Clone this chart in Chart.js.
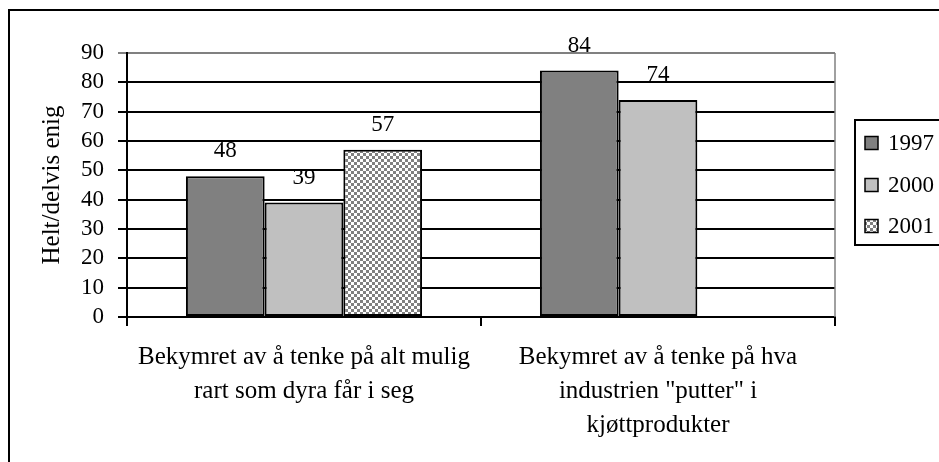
<!DOCTYPE html>
<html>
<head>
<meta charset="utf-8">
<script src="https://cdn.jsdelivr.net/npm/chart.js@4.4.0/dist/chart.umd.min.js"></script>
<style>
  body { margin: 0; background: #fff; }
  canvas { display: block; }
</style>
</head>
<body>
<canvas id="chart" width="939" height="462"></canvas>
<script>
// categories (x labels, split on lines)
const categories = [
    ['Bekymret av å tenke på alt mulig', 'rart som dyra får i seg'],
    ['Bekymret av å tenke på hva', 'industrien "putter" i', 'kjøttprodukter']
];
const seriesNames = ['1997', '2000', '2001'];
const values1997 = [48, 84];
const values2000 = [39, 74];
const values2001 = [57, null];
const yTicks = [0, 10, 20, 30, 40, 50, 60, 70, 80, 90];
const yTitle = 'Helt/delvis enig';

const FONT = '"Liberation Serif", "Times New Roman", serif';

// checkered fill for 2001
function makePattern() {
    const c = document.createElement('canvas');
    c.width = 6; c.height = 6;
    const g = c.getContext('2d');
    g.fillStyle = '#ffffff';
    g.fillRect(0, 0, 6, 6);
    g.fillStyle = '#808080';
    g.fillRect(0, 0, 3, 3);
    g.fillRect(3, 3, 3, 3);
    return g.createPattern(c, 'repeat');
}
const checker = makePattern();

// frame, plot border, value labels, axis title, legend
const decorations = {
    id: 'decorations',
    afterDatasetsDraw(chart) {
        const ctx = chart.ctx;
        const area = chart.chartArea;
        ctx.save();

        // gray right border of the plot area
        ctx.strokeStyle = '#808080';
        ctx.lineWidth = 1.5;
        ctx.beginPath();
        ctx.moveTo(area.right, area.top);
        ctx.lineTo(area.right, area.bottom);
        ctx.stroke();

        // value labels
        ctx.fillStyle = '#000';
        ctx.font = '23px ' + FONT;
        ctx.textAlign = 'center';
        ctx.textBaseline = 'alphabetic';
        chart.data.datasets.forEach((ds, i) => {
            chart.getDatasetMeta(i).data.forEach((bar, j) => {
                if (ds.data[j] == null) return;
                ctx.fillText(String(ds.data[j]), bar.x, bar.y - 19);
            });
        });

        // y axis title
        ctx.save();
        ctx.font = '25px ' + FONT;
        ctx.translate(52, (area.top + area.bottom) / 2);
        ctx.rotate(-Math.PI / 2);
        ctx.textBaseline = 'middle';
        ctx.fillText(yTitle, 0, 0);
        ctx.restore();

        // legend
        ctx.strokeStyle = '#000';
        ctx.lineWidth = 2;
        ctx.strokeRect(855, 120, 120, 125);
        const rows = [143, 185, 226];
        ctx.font = '23px ' + FONT;
        ctx.textAlign = 'left';
        ctx.textBaseline = 'middle';
        chart.data.datasets.forEach((ds, i) => {
            const y = rows[i];
            ctx.fillStyle = ds.backgroundColor;
            ctx.fillRect(865, y - 6.5, 13, 13);
            ctx.lineWidth = 1.5;
            ctx.strokeRect(865, y - 6.5, 13, 13);
            ctx.fillStyle = '#000';
            ctx.fillText(ds.label, 888, y + 1);
        });

        // outer frame
        ctx.lineWidth = 2;
        ctx.strokeRect(9, 10, 1000, 1000);
        ctx.restore();
    }
};

new Chart(document.getElementById('chart'), {
    type: 'bar',
    data: {
        labels: categories,
        datasets: [
            { label: seriesNames[0], data: values1997, backgroundColor: '#808080' },
            { label: seriesNames[1], data: values2000, backgroundColor: '#c0c0c0' },
            { label: seriesNames[2], data: values2001, backgroundColor: checker }
        ]
    },
    options: {
        responsive: false,
        animation: false,
        devicePixelRatio: 1,
        layout: { padding: { left: 10, top: 53, right: 104, bottom: 0 } },
        datasets: {
            bar: {
                categoryPercentage: 0.667,
                barPercentage: 1,
                borderColor: '#000',
                borderWidth: 2,
                borderSkipped: false
            }
        },
        plugins: {
            legend: { display: false },
            tooltip: { enabled: false }
        },
        scales: {
            x: {
                grid: {
                    drawOnChartArea: false,
                    drawTicks: true,
                    tickLength: 9,
                    color: '#000',
                    lineWidth: 2
                },
                border: { color: '#000', width: 2 },
                ticks: {
                    color: '#000',
                    font: { family: FONT, size: 25, lineHeight: 1.36 },
                    padding: 14,
                    maxRotation: 0,
                    autoSkip: false
                },
                afterFit(scale) { scale.height = 145; }
            },
            y: {
                min: 0,
                max: 90,
                afterBuildTicks(scale) { scale.ticks = yTicks.map(v => ({ value: v })); },
                grid: {
                    color: ctx => (ctx.tick && ctx.tick.value === 90 ? '#808080' : '#000'),
                    lineWidth: 2,
                    tickLength: 9
                },
                border: { color: '#000', width: 2 },
                ticks: {
                    color: '#000',
                    font: { family: FONT, size: 23 },
                    padding: 14,
                    autoSkip: false
                },
                afterFit(scale) { scale.width = 117; }
            }
        }
    },
    plugins: [decorations]
});
</script>
</body>
</html>
